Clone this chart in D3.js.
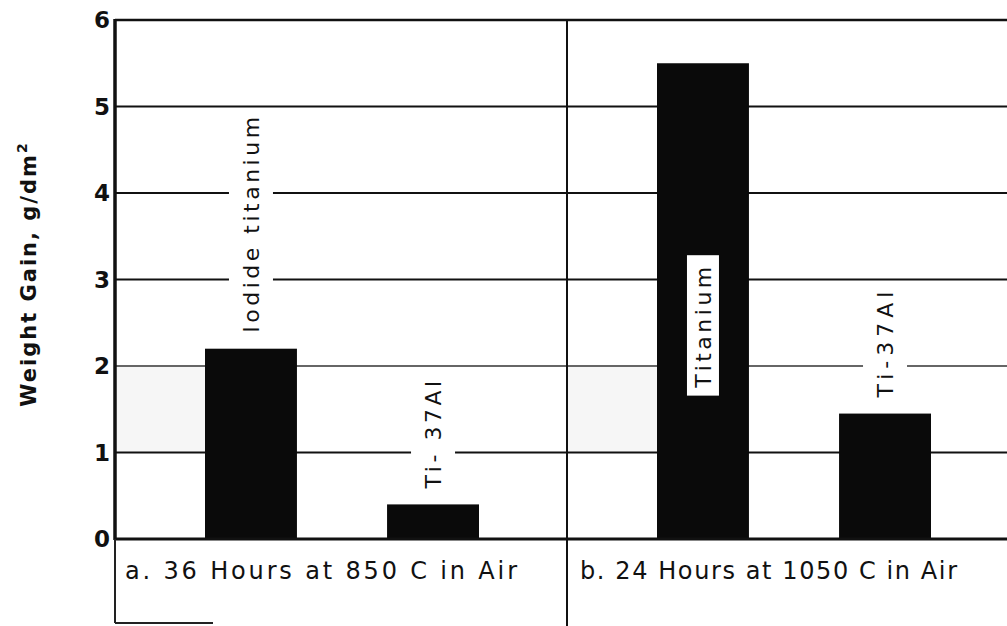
<!DOCTYPE html>
<html>
<head>
<meta charset="utf-8">
<script src="https://cdn.jsdelivr.net/npm/d3@7"></script>
<style>
  body { margin: 0; background: #fff; }
  text { font-family: "DejaVu Sans", sans-serif; fill: #111; }
</style>
</head>
<body>
<svg id="chart" width="1007" height="626"></svg>
<script>
// weight gain chart, two test conditions, two materials each

var groups = ["a", "b"];
var groupTitles = ["a. 36 Hours at 850 C in Air", "b. 24 Hours at 1050 C in Air"];
var materialsA = ["Iodide titanium", "Ti- 37Al"];
var materialsB = ["Titanium", "Ti-37Al"];
var valuesA = [2.2, 0.4];
var valuesB = [5.5, 1.45];
var yTicks = [0, 1, 2, 3, 4, 5, 6];

var svg = d3.select("#chart"),
    margin = {top: 20, left: 115, bottom: 87},
    plotRight = 1019,
    zeroY = 539;

var x = d3.scaleBand().domain(groups).range([margin.left, plotRight]).padding(0);
var xi = d3.scaleBand().domain([0, 1]).range([90, 364]).paddingInner(0.495).paddingOuter(0);
var y = d3.scaleLinear().domain([0, 6]).range([zeroY, margin.top]);

var bars = [];
groups.forEach(function(g, gi) {
  var names = gi == 0 ? materialsA : materialsB;
  var vals = gi == 0 ? valuesA : valuesB;
  names.forEach(function(n, i) {
    bars.push({group: g, idx: i, name: n, value: vals[i], inside: vals[i] > 5});
  });
});

var g = svg.append("g");

// faint scan shading between 1 and 2 on the left of each panel
g.selectAll(".shade")
  .data(groups)
  .enter().append("rect")
    .attr("x", function(d) { return x(d); })
    .attr("y", y(2))
    .attr("width", xi(0))
    .attr("height", y(1) - y(2))
    .attr("fill", "#f6f6f6");

// horizontal grid lines
g.selectAll(".grid")
  .data(yTicks.filter(function(d) { return d > 0 && d < 6; }))
  .enter().append("line")
    .attr("x1", margin.left).attr("x2", plotRight)
    .attr("y1", function(d) { return y(d); })
    .attr("y2", function(d) { return y(d); })
    .attr("stroke", function(d) { return d == 2 ? "#666" : "#111"; })
    .attr("stroke-width", 2);

// top line
g.append("line")
  .attr("x1", margin.left).attr("x2", plotRight)
  .attr("y1", y(6)).attr("y2", y(6))
  .attr("stroke", "#111").attr("stroke-width", 2.5);

function barX(d) { return x(d.group) + xi(d.idx); }
function barMid(d) { return barX(d) + xi.bandwidth() / 2; }

// bars
g.selectAll(".bar")
  .data(bars)
  .enter().append("rect")
    .attr("class", "bar")
    .attr("x", barX)
    .attr("y", function(d) { return y(d.value); })
    .attr("width", xi.bandwidth())
    .attr("height", function(d) { return zeroY - y(d.value); })
    .attr("fill", "#0a0a0a");

// labels, with white boxes that break the grid lines
var labelG = g.selectAll(".labtxt").data(bars).enter().append("g");
labelG.each(function(d) {
  var sel = d3.select(this);
  var bottom = d.inside ? y(1.75) : y(d.value) - 16;
  var cx = barMid(d);
  var box = sel.append("rect").attr("fill", "#fff");
  var t = sel.append("text")
    .attr("transform", "translate(" + cx + "," + bottom + ") rotate(-90)")
    .attr("dy", "0.36em")
    .attr("font-size", 22)
    .attr("letter-spacing", d.name.length < 8 ? 5 : 3.5)
    .text(d.name);
  var len = t.node().getComputedTextLength();
  if (d.inside) {
    box.attr("x", cx - 16).attr("y", bottom - len - 8)
       .attr("width", 32).attr("height", len + 16);
  } else {
    box.attr("x", cx - 22).attr("y", bottom - len - 2)
       .attr("width", 44).attr("height", len + 6);
  }
});

// zero line
g.append("line")
  .attr("x1", margin.left).attr("x2", plotRight)
  .attr("y1", zeroY).attr("y2", zeroY)
  .attr("stroke", "#111").attr("stroke-width", 3);

// left axis
g.append("line")
  .attr("x1", margin.left).attr("x2", margin.left)
  .attr("y1", y(6) - 1).attr("y2", zeroY + 1)
  .attr("stroke", "#111").attr("stroke-width", 3.5);

// frame below zero line
g.append("line")
  .attr("x1", margin.left).attr("x2", margin.left)
  .attr("y1", zeroY).attr("y2", 623)
  .attr("stroke", "#222").attr("stroke-width", 2);
g.append("line")
  .attr("x1", margin.left).attr("x2", 213)
  .attr("y1", 623).attr("y2", 623)
  .attr("stroke", "#222").attr("stroke-width", 2);

// divider between the two conditions
g.append("line")
  .attr("x1", x("b")).attr("x2", x("b"))
  .attr("y1", y(6)).attr("y2", 626)
  .attr("stroke", "#111").attr("stroke-width", 2);

// condition titles
g.selectAll(".gtitle")
  .data(groups)
  .enter().append("text")
    .attr("x", function(d) { return x(d) + (d == "a" ? 10 : 13); })
    .attr("y", 579)
    .attr("font-size", 24)
    .attr("textLength", function(d) { return d == "a" ? 392 : 377; })
    .attr("lengthAdjust", "spacing")
    .text(function(d, i) { return groupTitles[i]; });

// y tick labels
g.selectAll(".ytick")
  .data(yTicks)
  .enter().append("text")
    .attr("x", 110)
    .attr("y", function(d) { return y(d); })
    .attr("dy", "0.36em")
    .attr("text-anchor", "end")
    .attr("font-size", 23)
    .attr("font-weight", "bold")
    .text(function(d) { return d; });

// y axis title
var yt = g.append("text")
  .attr("transform", "translate(36,274) rotate(-90)")
  .attr("text-anchor", "middle")
  .attr("font-size", 21)
  .attr("font-weight", "bold")
  .attr("letter-spacing", 2);
yt.append("tspan").text("Weight Gain, g/dm");
yt.append("tspan").attr("dy", -9).attr("font-size", 14).text("2");
</script>
</body>
</html>
